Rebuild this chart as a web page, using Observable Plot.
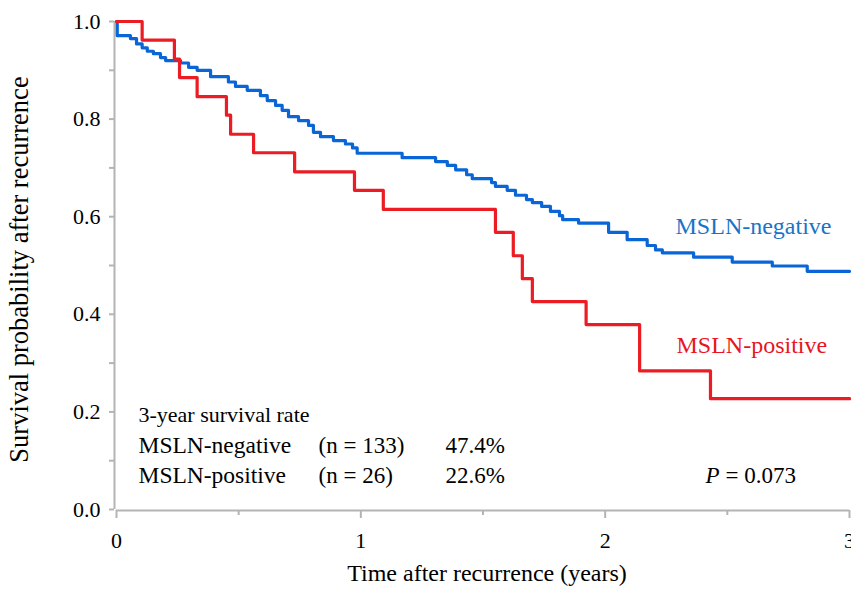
<!DOCTYPE html>
<html><head><meta charset="utf-8">
<script src="https://cdn.jsdelivr.net/npm/d3@7"></script>
<script src="https://cdn.jsdelivr.net/npm/@observablehq/plot@0.6"></script>
<style>body{margin:0;background:#fff;overflow:hidden}</style>
</head><body><div id="chart"></div>
<script>
// MSLN-negative (n = 133): step times (years) and survival after each step
const negTime = [0, 0.003, 0.057, 0.082, 0.105, 0.126, 0.151, 0.180, 0.201, 0.262, 0.295, 0.330, 0.385, 0.458, 0.487, 0.535, 0.589, 0.617, 0.651, 0.678, 0.704, 0.745, 0.786, 0.806, 0.835, 0.888, 0.937, 0.966, 0.985, 1.169, 1.306, 1.354, 1.388, 1.433, 1.456, 1.535, 1.551, 1.599, 1.633, 1.678, 1.702, 1.740, 1.776, 1.813, 1.826, 1.891, 2.014, 2.090, 2.172, 2.206, 2.234, 2.362, 2.520, 2.684, 2.827, 3.0];
const negSurv = [1.0, 0.971, 0.965, 0.954, 0.946, 0.939, 0.934, 0.926, 0.920, 0.915, 0.906, 0.900, 0.887, 0.876, 0.867, 0.859, 0.848, 0.838, 0.828, 0.818, 0.805, 0.797, 0.787, 0.773, 0.764, 0.756, 0.749, 0.741, 0.730, 0.721, 0.713, 0.705, 0.696, 0.686, 0.678, 0.670, 0.662, 0.654, 0.644, 0.635, 0.629, 0.621, 0.611, 0.602, 0.594, 0.587, 0.568, 0.553, 0.541, 0.532, 0.526, 0.517, 0.507, 0.499, 0.488, 0.488];
// MSLN-positive (n = 26)
const posTime = [0, 0.105, 0.237, 0.258, 0.330, 0.450, 0.467, 0.561, 0.729, 0.974, 1.092, 1.551, 1.624, 1.661, 1.702, 1.922, 2.141, 2.431, 3.0];
const posSurv = [1.0, 0.962, 0.923, 0.885, 0.846, 0.808, 0.769, 0.731, 0.692, 0.654, 0.615, 0.568, 0.520, 0.473, 0.426, 0.379, 0.284, 0.227, 0.227];

const yTicks = [0, 0.2, 0.4, 0.6, 0.8, 1.0];
const yMinorTicks = [0.1, 0.3, 0.5, 0.7, 0.9];
const xTicks = [0, 1, 2, 3];
const xMinorTicks = [0.5, 1.5, 2.5];
const groupNames = ["MSLN-negative", "MSLN-positive"];
const groupN = ["(n = 133)", "(n = 26)"];
const groupRate = ["47.4%", "22.6%"];
const pLabel = "= 0.073";

const BLUE = "#0a66d6", RED = "#ec1c24", AXIS = "#b4b4b4";
const FONT = "'Liberation Serif', 'Times New Roman', serif";

const neg = negTime.map((t, i) => ({t, s: negSurv[i]}));
const pos = posTime.map((t, i) => ({t, s: posSurv[i]}));

const fs = 22;
const chart = Plot.plot({
  width: 851, height: 598,
  marginLeft: 116, marginRight: 2, marginTop: 21, marginBottom: 89,
  style: {fontFamily: FONT, background: "#fff", color: "#000", overflow: "visible"},
  x: {domain: [0, 3]},
  y: {domain: [0, 1]},
  marks: [
    // axis lines
    Plot.ruleX([0], {y1: 0, y2: 1, dx: -2, stroke: AXIS, strokeWidth: 2}),
    Plot.ruleY([0], {x1: 0, x2: 3, dy: 1, stroke: AXIS, strokeWidth: 2}),
    Plot.axisY(yTicks, {tickSize: 5, dx: -2, tickPadding: 9, stroke: AXIS, strokeWidth: 2, fill: "#000", fontSize: fs, tickFormat: d => d.toFixed(1), label: null}),
    Plot.axisY(yMinorTicks, {tickSize: 5, dx: -2, stroke: AXIS, strokeWidth: 2, tickFormat: () => "", label: null}),
    Plot.axisX(xTicks, {tickSize: 8, dy: 1, tickPadding: 14, stroke: AXIS, strokeWidth: 2, fill: "#000", fontSize: fs, tickFormat: d => String(d), label: null}),
    Plot.axisX(xMinorTicks, {tickSize: 5, dy: 1, stroke: AXIS, strokeWidth: 2, tickFormat: () => "", label: null}),
    // curves
    Plot.line(neg, {x: "t", y: "s", curve: "step-after", stroke: BLUE, strokeWidth: 3.2}),
    Plot.line(pos, {x: "t", y: "s", curve: "step-after", stroke: RED, strokeWidth: 3.2}),
    // curve labels
    Plot.text([groupNames[0]], {x: 2.288, y: 0.58, text: d => d, textAnchor: "start", fill: "#1874c8", fontSize: 24}),
    Plot.text([groupNames[1]], {x: 2.292, y: 0.336, text: d => d, textAnchor: "start", fill: "#e8141e", fontSize: 24}),
    // table
    Plot.text(["3-year survival rate"], {x: 0.09, y: 0.193, text: d => d, textAnchor: "start", fill: "#000", fontSize: 22}),
    Plot.text(groupNames, {x: 0.09, y: (d, i) => [0.131, 0.07][i], text: d => d, textAnchor: "start", fill: "#000", fontSize: 23.5}),
    Plot.text(groupN, {x: 0.827, y: (d, i) => [0.131, 0.07][i], text: d => d, textAnchor: "start", fill: "#000", fontSize: 23}),
    Plot.text(groupRate, {x: 1.347, y: (d, i) => [0.131, 0.07][i], text: d => d, textAnchor: "start", fill: "#000", fontSize: 23}),
    Plot.text(["P"], {x: 2.411, y: 0.07, text: d => d, textAnchor: "start", fill: "#000", fontSize: 23, fontStyle: "italic"}),
    Plot.text([pLabel], {x: 2.493, y: 0.07, text: d => d, textAnchor: "start", fill: "#000", fontSize: 23}),
    // axis titles
    Plot.text(["Time after recurrence (years)"], {frameAnchor: "bottom", textAnchor: "middle", dy: 71, dx: 4, text: d => d, fill: "#000", fontSize: 24}),
    Plot.text(["Survival probability after recurrence"], {frameAnchor: "left", textAnchor: "middle", dx: -97, dy: 4, rotate: -90, text: d => d, fill: "#000", fontSize: 26.5})
  ]
});
document.getElementById("chart").append(chart);
</script>
</body></html>
